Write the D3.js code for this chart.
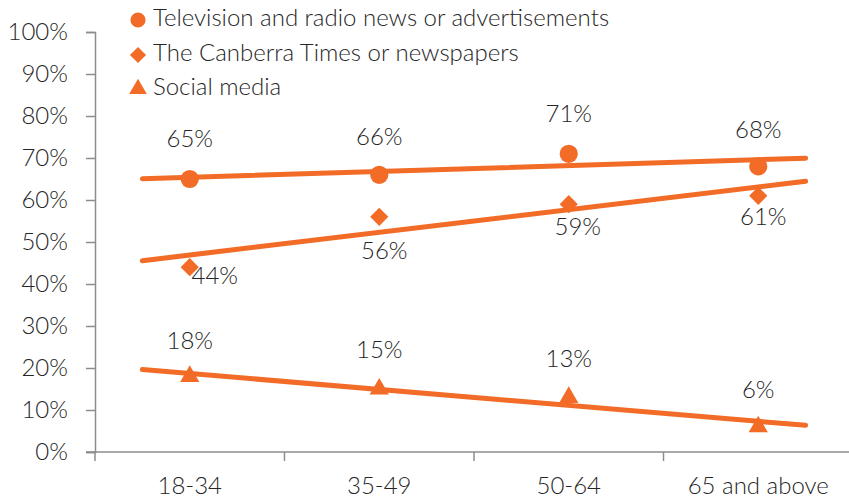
<!DOCTYPE html>
<html>
<head>
<meta charset="utf-8">
<script src="https://cdn.jsdelivr.net/npm/d3@7"></script>
<style>
  html, body { margin: 0; padding: 0; background: #fff; }
  svg text { font-family: "Source Sans Pro", Lato, "Open Sans", sans-serif; font-weight: 300; fill: #262626; }
</style>
</head>
<body>
<svg id="chart" width="849" height="498"></svg>
<script>
// Age groups on the x axis
const ageGroups = ["18-34", "35-49", "50-64", "65 and above"];

// Share of respondents by information source (%)
const tvRadio = [65, 66, 71, 68];
const newspapers = [44, 56, 59, 61];
const socialMedia = [18, 15, 13, 6];

const seriesNames = [
  "Television and radio news or advertisements",
  "The Canberra Times or newspapers",
  "Social media"
];

const yTicks = [0, 10, 20, 30, 40, 50, 60, 70, 80, 90, 100];

const orange = "#F26B27";
const axisGrey = "#8C8C8C";
const fontSize = 24;

const svg = d3.select("#chart");

const plotLeft = 95, plotRight = 853, plotTop = 32, plotBottom = 452;

// Category index (1..n) mapped to band centres
const x = d3.scaleLinear().domain([0.5, ageGroups.length + 0.5]).range([plotLeft, plotRight]);
const y = d3.scaleLinear().domain([0, 100]).range([plotBottom, plotTop]);

// Y axis
const yAxis = d3.axisLeft(y).tickValues(yTicks).tickSize(9).tickPadding(18)
  .tickFormat(d => d + "%");
const gy = svg.append("g").attr("transform", `translate(${plotLeft},0)`).call(yAxis);
gy.select(".domain").attr("stroke", axisGrey).attr("stroke-width", 1.5);
gy.selectAll(".tick line").attr("stroke", axisGrey).attr("stroke-width", 1.5);
gy.attr("font-family", null).attr("font-size", null);
gy.selectAll(".tick text").attr("font-size", fontSize).attr("fill", "#262626");

// X axis: boundary ticks between categories, labels centred in each band
const xBounds = d3.range(0, ageGroups.length + 1).map(i => i + 0.5);
const gx = svg.append("g").attr("transform", `translate(0,${plotBottom})`);
gx.append("line").attr("x1", plotLeft - 9).attr("x2", 849).attr("y1", 0).attr("y2", 0)
  .attr("stroke", axisGrey).attr("stroke-width", 1.5);
gx.selectAll(".xtick").data(xBounds).join("line")
  .attr("x1", d => x(d)).attr("x2", d => x(d)).attr("y1", 0).attr("y2", 9)
  .attr("stroke", axisGrey).attr("stroke-width", 1.5);
gx.selectAll(".xlabel").data(ageGroups).join("text")
  .attr("x", (d, i) => x(i + 1)).attr("y", 36)
  .attr("text-anchor", "middle").attr("dominant-baseline", "middle")
  .attr("font-size", fontSize).text(d => d);

// Least-squares trendline over category index, extended a quarter band each way
function trend(values) {
  const xs = values.map((v, i) => i + 1);
  const mx = d3.mean(xs), my = d3.mean(values);
  const sxy = d3.sum(xs, (xi, i) => (xi - mx) * (values[i] - my));
  const sxx = d3.sum(xs, xi => (xi - mx) ** 2);
  const b = sxy / sxx, a = my - b * mx;
  const x0 = 0.75, x1 = values.length + 0.25;
  return [[x0, a + b * x0], [x1, a + b * x1]];
}

const line = d3.line().x(d => x(d[0])).y(d => y(d[1]));

// Square-on-point diamond
const diamond = {
  draw(context, size) {
    const r = Math.sqrt(size / 2);
    context.moveTo(0, -r);
    context.lineTo(r, 0);
    context.lineTo(0, r);
    context.lineTo(-r, 0);
    context.closePath();
  }
};

const series = [
  { name: seriesNames[0], values: tvRadio, symbol: d3.symbolCircle, size: 260, legendSize: 180,
    labelOffsets: [[0, -38], [0, -36], [0, -38], [0, -34]] },
  { name: seriesNames[1], values: newspapers, symbol: diamond, size: 165, legendSize: 130,
    labelOffsets: [[25, 11], [5, 36], [9, 25], [5, 23]] },
  { name: seriesNames[2], values: socialMedia, symbol: d3.symbolTriangle, size: 160, legendSize: 135,
    labelOffsets: [[0, -33], [0, -37], [0, -36], [0, -35]] }
];

// Trendlines
series.forEach(s => {
  svg.append("path").datum(trend(s.values)).attr("d", line)
    .attr("fill", "none").attr("stroke", orange).attr("stroke-width", 5)
    .attr("stroke-linecap", "round");
});

// Markers and value labels
series.forEach(s => {
  const g = svg.append("g");
  g.selectAll("path").data(s.values).join("path")
    .attr("d", d3.symbol().type(s.symbol).size(s.size))
    .attr("transform", (d, i) => `translate(${x(i + 1)},${y(d)})`)
    .attr("fill", orange);
  g.selectAll("text").data(s.values).join("text")
    .attr("x", (d, i) => x(i + 1) + s.labelOffsets[i][0])
    .attr("y", (d, i) => y(d) + s.labelOffsets[i][1])
    .attr("text-anchor", "middle").attr("dominant-baseline", "middle")
    .attr("font-size", fontSize).text(d => d + "%");
});

// Legend
const legend = svg.append("g");
const legendRows = [20, 55, 89];
series.forEach((s, i) => {
  legend.append("path")
    .attr("d", d3.symbol().type(s.symbol).size(s.legendSize))
    .attr("transform", `translate(138,${legendRows[i]})`)
    .attr("fill", orange);
  legend.append("text").attr("x", 153).attr("y", legendRows[i])
    .attr("dominant-baseline", "middle").attr("font-size", fontSize).text(s.name);
});
</script>
</body>
</html>
